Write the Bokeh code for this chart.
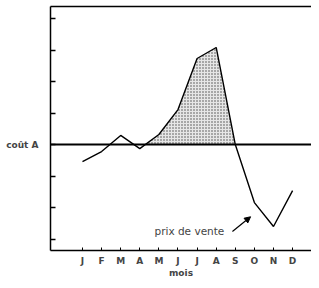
import numpy as np
from bokeh.plotting import figure
from bokeh.models import LinearAxis, Range1d, FixedTicker, Arrow, NormalHead, Label, Span
from bokeh.embed import file_html
from bokeh.resources import INLINE

months = ["J", "F", "M", "A", "M", "J", "J", "A", "S", "O", "N", "D"]
month_x = list(range(1, 13))
prix = [-0.54, -0.22, 0.29, -0.13, 0.32, 1.11, 2.73, 3.08, 0.0, -1.84, -2.6, -1.46]
cout_a = 0.0
y_ticks = [-3, -2, -1, 0, 1, 2, 3, 4]

FONT = "DejaVu Sans"

p = figure(width=311, height=280, output_backend="svg", toolbar_location=None,
           x_range=Range1d(-0.675, 12.99), y_range=Range1d(-3.36, 4.38),
           x_axis_location=None, y_axis_location=None,
           min_border_left=50, min_border_right=0, min_border_top=0, min_border_bottom=30)
p.grid.visible = False
p.outline_line_color = None
p.background_fill_color = "white"
p.border_fill_color = "white"

# shaded region: where price exceeds cost, from the crossing after April to September
xs = np.array(month_x, dtype=float)
ys = np.array(prix)
i0 = 3  # April (below), May above
xc = xs[i0] + (cout_a - ys[i0]) / (ys[i0 + 1] - ys[i0])
sx = [xc] + list(xs[i0 + 1:9])
sy = [cout_a] + list(ys[i0 + 1:9])
p.varea(x=sx, y1=[cout_a] * len(sx), y2=sy, fill_color="#e6e6e6", fill_alpha=1,
        hatch_pattern="dot", hatch_color="#222222", hatch_scale=3, hatch_alpha=0.8)

p.add_layout(Span(location=cout_a, dimension="width", line_color="black", line_width=2))
p.line(month_x, prix, line_color="black", line_width=1.4)

# axes
ya = LinearAxis(ticker=FixedTicker(ticks=y_ticks),
                major_label_overrides={t: ("coût A" if t == 0 else "") for t in y_ticks},
                major_tick_in=5, major_tick_out=0, minor_tick_line_color=None,
                axis_line_width=1.5, major_tick_line_width=1.5,
                major_label_text_font=FONT, major_label_text_font_size="9px",
                major_label_text_font_style="bold", major_label_standoff=12)
p.add_layout(ya, "left")

xa = LinearAxis(ticker=FixedTicker(ticks=month_x),
                major_label_overrides={x: m for x, m in zip(month_x, months)},
                major_tick_in=3, major_tick_out=0, minor_tick_line_color=None,
                axis_line_width=1.5,
                major_label_text_font=FONT, major_label_text_font_size="9px",
                major_label_text_font_style="bold", major_label_standoff=5,
                axis_label="mois", axis_label_text_font=FONT,
                axis_label_text_font_size="9px", axis_label_text_font_style="bold",
                axis_label_standoff=-1)
p.add_layout(xa, "below")

top = LinearAxis(major_tick_line_color=None, minor_tick_line_color=None,
                 major_label_text_font_size="0px", axis_line_width=1.5,
                 major_label_standoff=0)
top.major_label_text_alpha = 0
p.add_layout(top, "above")

p.add_layout(Label(x=4.77, y=-2.73, text="prix de vente", text_font=FONT,
                   text_font_size="10.5px", text_baseline="middle"))
p.add_layout(Arrow(x_start=8.85, y_start=-2.76, x_end=9.8, y_end=-2.29,
                   line_width=1.2, end=NormalHead(size=6, fill_color="black")))

open("out.html", "w").write(file_html(p, INLINE))
